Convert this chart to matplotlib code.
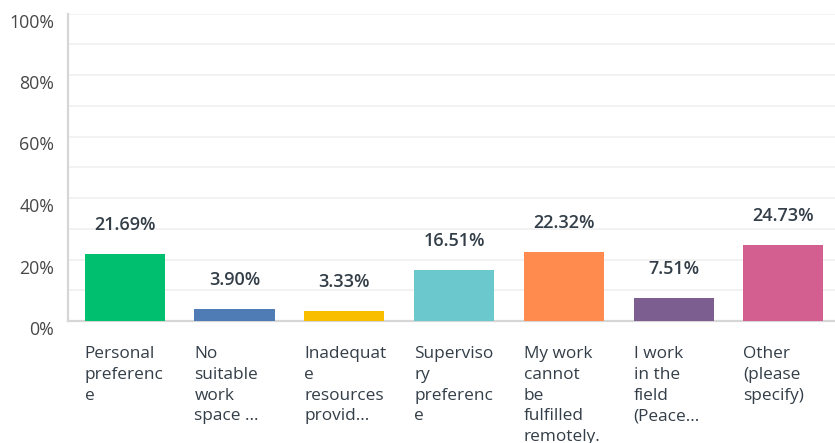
import matplotlib
matplotlib.use('Agg')
import matplotlib.pyplot as plt
from matplotlib.transforms import ScaledTranslation
import numpy as np

plt.rcParams['font.family'] = ['Open Sans', 'DejaVu Sans']

# === data ===
categories = [
    'Personal\npreferenc\ne',
    'No\nsuitable\nwork\nspace ...',
    'Inadequat\ne\nresources\nprovid...',
    'Superviso\nry\npreferenc\ne',
    'My work\ncannot\nbe\nfulfilled\nremotely.',
    'I work\nin the\nfield\n(Peace...',
    'Other\n(please\nspecify)',
]
values = [21.69, 3.90, 3.33, 16.51, 22.32, 7.51, 24.73]
colors = ['#00BF6F', '#507CB6', '#F9BE00', '#6BC8CD', '#FF8B4F', '#7D5E90', '#D25F90']
yticks = [0, 20, 40, 60, 80, 100]

TXT = '#333e48'
BAR_W = 0.73

fig = plt.figure(figsize=(8.35, 4.43), dpi=100)
ax = fig.add_axes([68/835, 122/443, 767/835, 307.5/443])

x = np.arange(len(values))
ax.bar(x, values, width=BAR_W, color=colors, zorder=3)

ax.set_xlim(-0.517, 6.47)
ax.set_ylim(0, 100)

# light grid every 10 %
for g in range(10, 101, 10):
    ax.axhline(g, color='#f0f0f0', linewidth=1.2, zorder=1)

ax.set_yticks(yticks)
ax.set_yticklabels([f'{t}%' for t in yticks], fontsize=12.8, color='#474747')
ax.tick_params(axis='y', length=0, pad=10)
ax.tick_params(axis='x', length=0, labelbottom=False)
for lab in ax.get_yticklabels():
    lab.set_transform(lab.get_transform() + ScaledTranslation(0, -7/100, fig.dpi_scale_trans))

for s in ['top', 'right']:
    ax.spines[s].set_visible(False)
ax.spines['left'].set_color('#d6d6d6')
ax.spines['left'].set_linewidth(1.6)
ax.spines['bottom'].set_color('#d6d6d6')
ax.spines['bottom'].set_linewidth(1.6)

# value labels above bars
for xi, v in zip(x, values):
    ax.annotate(f'{v:.2f}%', (xi, v), xytext=(0, 29*0.72), textcoords='offset points',
                ha='center', va='center', fontsize=13, fontweight='semibold', color=TXT)

# category labels, left aligned under each bar
for xi, lab in zip(x, categories):
    ax.annotate(lab, (xi - BAR_W/2, 0), xytext=(0, -25*0.72), textcoords='offset points',
                ha='left', va='top', fontsize=12.4, color=TXT, linespacing=1.4,
                annotation_clip=False)

fig.savefig('out.png', dpi=100)
